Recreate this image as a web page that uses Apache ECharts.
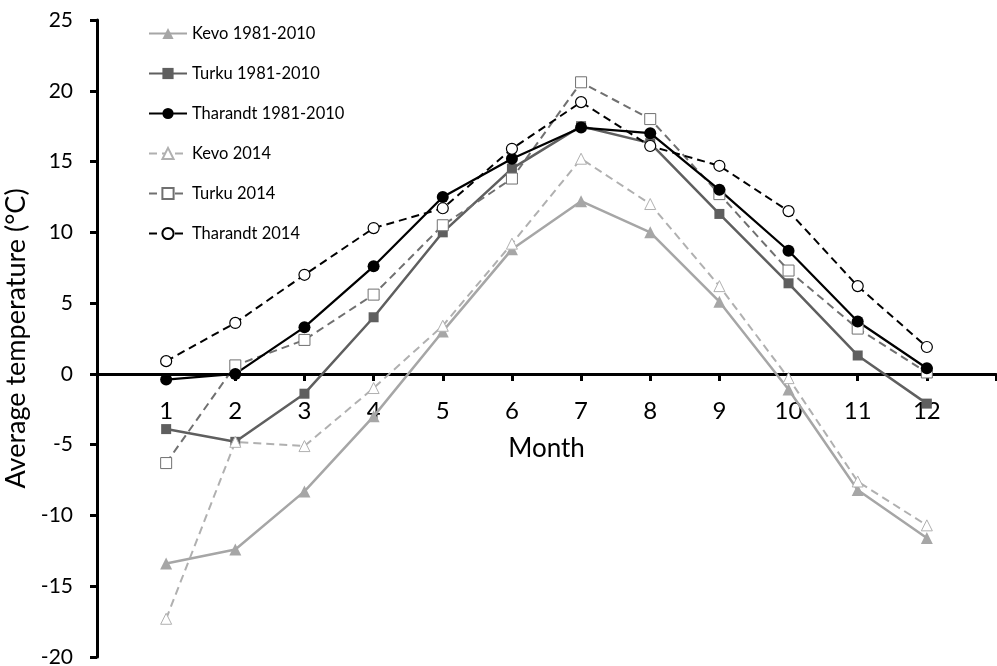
<!DOCTYPE html>
<html>
<head>
<meta charset="utf-8">
<script src="https://cdn.jsdelivr.net/npm/echarts@6/dist/echarts.min.js"></script>
<style>html,body{margin:0;padding:0;background:#fff}#c{width:997px;height:666px}</style>
</head>
<body>
<div id="c"></div>
<script>
var months = [1,2,3,4,5,6,7,8,9,10,11,12];
var kevo1981 = [-13.4,-12.4,-8.3,-3.0,3.0,8.8,12.2,10.0,5.1,-1.1,-8.2,-11.6];
var turku1981 = [-3.9,-4.8,-1.4,4.0,10.0,14.5,17.5,16.3,11.3,6.4,1.3,-2.1];
var tharandt1981 = [-0.4,0.0,3.3,7.6,12.5,15.2,17.4,17.0,13.0,8.7,3.7,0.4];
var kevo2014 = [-17.3,-4.8,-5.1,-1.0,3.4,9.2,15.2,12.0,6.2,-0.3,-7.6,-10.7];
var turku2014 = [-6.3,0.6,2.4,5.6,10.5,13.8,20.6,18.0,12.7,7.3,3.2,0.1];
var tharandt2014 = [0.9,3.6,7.0,10.3,11.7,15.9,19.2,16.1,14.7,11.5,6.2,1.9];
var yTicks = [-20,-15,-10,-5,0,5,10,15,20,25];

function pts(vals){ return months.map(function(m,i){ return [m, vals[i]]; }); }
var FONT = 'Lato';

var W = 997, H = 666;
var gridLeft = 97, gridRight = 1, gridTop = 20, gridBottom = 9;
var yMin = yTicks[0], yMax = yTicks[yTicks.length-1];
var plotH = H - gridTop - gridBottom;
// move the bottom x axis up to the y = 0 line
var xOffset = -plotH * (0 - yMin) / (yMax - yMin);

var chart = echarts.init(document.getElementById('c'), null, {renderer:'canvas', width:W, height:H});
chart.setOption({
  animation:false,
  backgroundColor:'#fff',
  grid:{left:gridLeft,right:gridRight,top:gridTop,bottom:gridBottom,containLabel:false,outerBoundsMode:'none'},
  legend:{
    orient:'vertical', left:143, top:20, itemWidth:38, itemHeight:14, itemGap:23,
    textStyle:{fontFamily:FONT,fontSize:16.5,color:'#000'},
    data:['Kevo 1981-2010','Turku 1981-2010','Tharandt 1981-2010','Kevo 2014','Turku 2014','Tharandt 2014']
  },
  xAxis:{
    type:'value', min:0, max:13, interval:1, position:'bottom', offset:xOffset,
    name:'Month', nameLocation:'middle', nameGap:62,
    nameTextStyle:{fontFamily:FONT,fontSize:26,color:'#000'},
    axisLine:{onZero:false,lineStyle:{color:'#000',width:3}},
    axisTick:{show:true,length:7,lineStyle:{color:'#000',width:3}},
    axisLabel:{fontFamily:FONT,fontSize:24,color:'#000',margin:25,
      formatter:function(v){ return (v>=1 && v<=12) ? String(v) : ''; }},
    splitLine:{show:false}
  },
  yAxis:{
    type:'value', min:yMin, max:yMax, interval:5,
    name:'Average temperature (°C)', nameLocation:'middle', nameGap:57, nameRotate:90,
    nameTextStyle:{fontFamily:FONT,fontSize:27,color:'#000'},
    axisLine:{show:true,onZero:false,lineStyle:{color:'#000',width:3}},
    axisTick:{show:true,length:7,lineStyle:{color:'#000',width:3}},
    axisLabel:{fontFamily:FONT,fontSize:21,color:'#000',margin:24},
    splitLine:{show:false}
  },
  series:[
    {name:'Kevo 1981-2010',type:'line',data:pts(kevo1981),symbol:'triangle',symbolSize:12,
      itemStyle:{color:'#a6a6a6'},lineStyle:{color:'#a6a6a6',width:2.5}},
    {name:'Turku 1981-2010',type:'line',data:pts(turku1981),symbol:'rect',symbolSize:10,
      itemStyle:{color:'#5f5f5f'},lineStyle:{color:'#5f5f5f',width:2.5}},
    {name:'Kevo 2014',type:'line',data:pts(kevo2014),symbol:'triangle',symbolSize:11,
      itemStyle:{color:'#fff',borderColor:'#b0b0b0',borderWidth:1},lineStyle:{color:'#b0b0b0',width:2,type:[8,5]}},
    {name:'Turku 2014',type:'line',data:pts(turku2014),symbol:'rect',symbolSize:11,
      itemStyle:{color:'#fff',borderColor:'#707070',borderWidth:1},lineStyle:{color:'#707070',width:2,type:[8,5]}},
    {name:'Tharandt 1981-2010',type:'line',data:pts(tharandt1981),symbol:'circle',symbolSize:12,
      itemStyle:{color:'#000'},lineStyle:{color:'#000',width:2.25}},
    {name:'Tharandt 2014',type:'line',data:pts(tharandt2014),symbol:'circle',symbolSize:11,
      itemStyle:{color:'#fff',borderColor:'#000',borderWidth:1.2},lineStyle:{color:'#000',width:2,type:[8,5]}}
  ]
});
</script>
</body>
</html>
